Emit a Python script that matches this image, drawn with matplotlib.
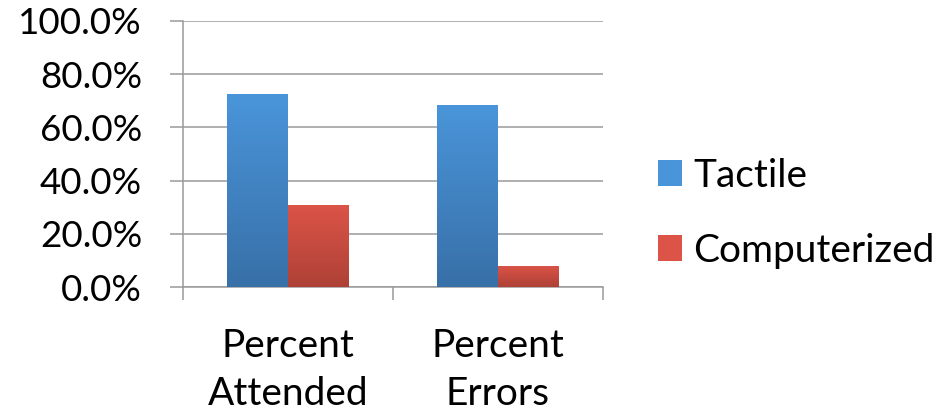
import numpy as np
import matplotlib
matplotlib.use("Agg")
import matplotlib.pyplot as plt
from matplotlib.colors import LinearSegmentedColormap
from matplotlib.ticker import FuncFormatter, FixedLocator

categories = ["Percent\nAttended", "Percent\nErrors"]
series_names = ["Tactile", "Computerized"]
tactile = [72.5, 68.4]
computerized = [30.9, 8.0]
y_ticks = [0, 20, 40, 60, 80, 100]

plt.rcParams["font.family"] = ["Lato", "DejaVu Sans"]

fig = plt.figure(figsize=(9.36, 4.12), dpi=100)
ax = fig.add_axes([0.1955, 0.3027, 0.4487, 0.647])

grid_c = "#9a9a9a"
x = np.arange(len(categories))
w = 0.29
grads = [("#4A95DA", "#3870A8"), ("#DC5448", "#AE4136")]

for i, (vals, (top, bot)) in enumerate(zip([tactile, computerized], grads)):
    offs = (i - 0.5) * w
    bars = ax.bar(x + offs, vals, width=w, color=top, label=series_names[i],
                  zorder=3, linewidth=0)
    cmap = LinearSegmentedColormap.from_list(f"g{i}", [bot, top])
    for b in bars:
        x0, y0 = b.get_x(), b.get_y()
        bw, bh = b.get_width(), b.get_height()
        grad = np.linspace(0, 1, 256).reshape(-1, 1)
        im = ax.imshow(grad, cmap=cmap, aspect="auto", origin="lower",
                       extent=[x0, x0 + bw, y0, y0 + bh], zorder=4)
        im.set_clip_path(b)

ax.set_xlim(-0.5, len(categories) - 0.5)
ax.set_ylim(0, 100)
ax.set_yticks(y_ticks)
ax.yaxis.set_major_formatter(FuncFormatter(lambda v, p: f"{v:.1f}%"))
ax.set_xticks(x)
ax.set_xticklabels(categories, fontsize=28, linespacing=1.42)
ax.xaxis.set_minor_locator(FixedLocator(np.arange(len(categories) + 1) - 0.5))
ax.tick_params(axis="x", which="major", length=0, pad=29)
ax.tick_params(axis="x", which="minor", length=9.5, width=1.1, color=grid_c)
ax.tick_params(axis="y", length=9.5, width=1.1, color=grid_c, labelsize=26.5, pad=20)

ax.yaxis.grid(True, color=grid_c, linewidth=1.1, zorder=0)
ax.set_axisbelow(True)
for s in ["top", "right"]:
    ax.spines[s].set_visible(False)
for s in ["left", "bottom"]:
    ax.spines[s].set_color(grid_c)
    ax.spines[s].set_linewidth(1.1)

leg = ax.legend(loc="center left", bbox_to_anchor=(1.131, 0.278), frameon=False,
                fontsize=28, handlelength=0.62, handleheight=0.62,
                handletextpad=0.28, labelspacing=1.0,
                borderpad=0, borderaxespad=0)

fig.savefig("out.png", dpi=100)
